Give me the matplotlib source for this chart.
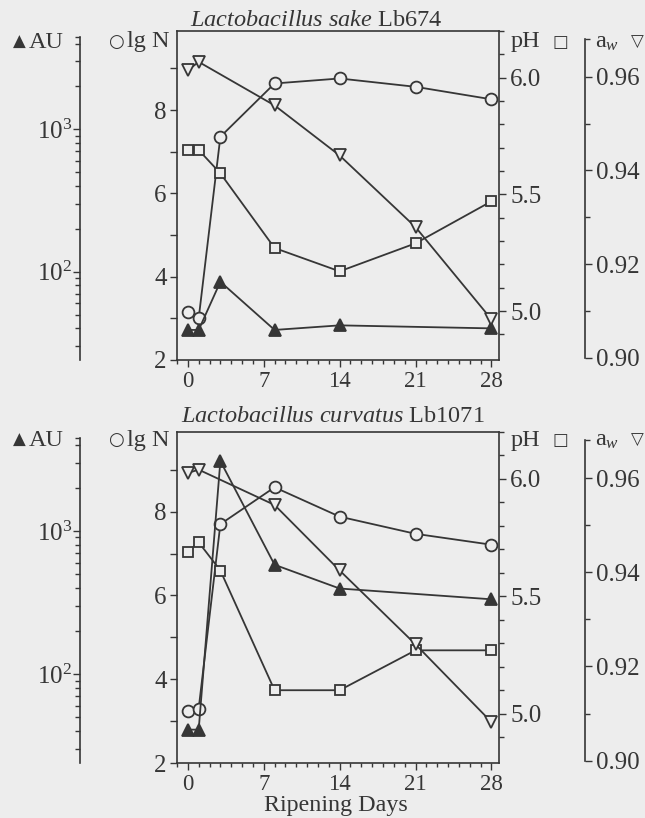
import matplotlib
matplotlib.use('Agg')
import matplotlib.pyplot as plt
from matplotlib.ticker import FixedLocator, FixedFormatter, NullFormatter

plt.rcParams['font.family'] = ['Liberation Serif', 'DejaVu Sans']
plt.rcParams['mathtext.fontset'] = 'custom'
plt.rcParams['mathtext.rm'] = 'Liberation Serif'
plt.rcParams['mathtext.it'] = 'Liberation Serif:italic'

BG = '#ededed'
INK = '#363636'

# -------------------- data --------------------
days = [0, 1, 3, 8, 14, 21, 28]          # lg N and pH
days_aw = [0, 1, 8, 14, 21, 28]          # water activity
days_au = [0, 1, 3, 8, 14, 28]           # bacteriocin activity

lgN_sake = [3.16, 3.0, 7.36, 8.64, 8.76, 8.56, 8.26]
pH_sake = [5.69, 5.69, 5.59, 5.27, 5.17, 5.29, 5.47]
aw_sake = [0.9614, 0.9632, 0.9539, 0.9432, 0.9279, 0.9082]
au_sake = [39, 39, 85, 39, 42, 40]

lgN_curv = [3.24, 3.30, 7.70, 8.58, 7.88, 7.47, 7.21]
pH_curv = [5.69, 5.73, 5.61, 5.10, 5.10, 5.27, 5.27]
aw_curv = [0.9611, 0.9618, 0.9543, 0.9404, 0.9247, 0.9082]
au_curv = [41, 41, 3070, 580, 396, 333]

x_ticks = [0, 7, 14, 21, 28]
lgN_ticks = [2, 4, 6, 8]
pH_ticks = [5.0, 5.5, 6.0]
pH_labels = ['5.0', '5.5', '6.0']
aw_ticks = [0.90, 0.92, 0.94, 0.96]
aw_labels = ['0.90', '0.92', '0.94', '0.96']
au_ticks = [100, 1000]
au_labels = [r'$10^2$', r'$10^3$']

W, H = 645, 818
fig = plt.figure(figsize=(W / 100, H / 100), dpi=100, facecolor=BG)


def fx(px):
    return px / W


def fy(py):
    return 1 - py / H


XTICK_FS = 16.5
YTICK_FS = 18
LAB_FS = 17.5


def style_ticks(axis_obj, major_len=5.0, minor_len=3.4, pad=3):
    axis_obj.tick_params(axis='y', which='both', direction='out', width=1.0,
                         colors=INK, labelsize=YTICK_FS, pad=pad)
    axis_obj.tick_params(axis='y', which='major', length=major_len)
    axis_obj.tick_params(axis='y', which='minor', length=minor_len)


def side_spine(a, side, pos=None, bounds=None):
    for k, s in a.spines.items():
        s.set_visible(k == side)
    sp = a.spines[side]
    sp.set_color(INK)
    sp.set_linewidth(1.2)
    if pos is not None:
        sp.set_position(('axes', pos))
    if bounds is not None:
        sp.set_bounds(*bounds)


def panel(top_px, bot_px, lgN, pH, aw, au, title, title_py, title_cx, label_py,
          xlabel=False):
    left_px, right_px = 177, 499
    ax = fig.add_axes([fx(left_px), fy(bot_px), fx(right_px - left_px),
                       (bot_px - top_px) / H])
    ax.set_facecolor('none')
    for s in ax.spines.values():
        s.set_color(INK)
        s.set_linewidth(1.2)
    ax.spines['right'].set_visible(False)

    # lg N (left inner axis)
    ax.set_xlim(-1.0, 28.7)
    ax.set_ylim(2, 9.9)
    ax.xaxis.set_major_locator(FixedLocator(x_ticks))
    ax.xaxis.set_minor_locator(FixedLocator(list(range(-1, 29))))
    ax.yaxis.set_major_locator(FixedLocator(lgN_ticks))
    ax.yaxis.set_minor_locator(FixedLocator([3, 5, 7, 9]))
    ax.tick_params(axis='x', which='both', direction='out', width=1.0,
                   colors=INK, labelsize=XTICK_FS, pad=3)
    ax.tick_params(axis='x', which='major', length=5.0)
    ax.tick_params(axis='x', which='minor', length=3.0)
    style_ticks(ax, major_len=5.4, minor_len=5.0, pad=2)

    # AU (far left, log)
    ax_au = ax.twinx()
    ax_au.set_yscale('log')
    ax_au.set_ylim(10 ** 1.38, 10 ** 3.69)
    side_spine(ax_au, 'left', pos=-0.301, bounds=(24, 4450))
    ax_au.yaxis.tick_left()
    ax_au.yaxis.set_major_locator(FixedLocator(au_ticks))
    ax_au.yaxis.set_major_formatter(FixedFormatter(au_labels))
    au_minor = [m * 10 ** e for e in (1, 2, 3) for m in range(2, 10)]
    au_minor = [v for v in au_minor if 24 <= v <= 4000] + [4450]
    ax_au.yaxis.set_minor_locator(FixedLocator(au_minor))
    ax_au.yaxis.set_minor_formatter(NullFormatter())
    style_ticks(ax_au, major_len=5.4, minor_len=3.8, pad=0.5)

    # pH (box right)
    ax_ph = ax.twinx()
    ax_ph.set_ylim(4.79, 6.2)
    side_spine(ax_ph, 'right')
    ax_ph.yaxis.set_major_locator(FixedLocator(pH_ticks))
    ax_ph.yaxis.set_major_formatter(FixedFormatter(pH_labels))
    ax_ph.yaxis.set_minor_locator(FixedLocator([4.9, 5.1, 5.2, 5.3, 5.4, 5.6,
                                                5.7, 5.8, 5.9, 6.1, 6.2]))
    style_ticks(ax_ph, major_len=5.0, minor_len=3.6, pad=3)

    # a_w (far right)
    ax_aw = ax.twinx()
    ax_aw.set_ylim(0.8995, 0.9698)
    side_spine(ax_aw, 'right', pos=1.267, bounds=(0.90, 0.968))
    ax_aw.yaxis.set_major_locator(FixedLocator(aw_ticks))
    ax_aw.yaxis.set_major_formatter(FixedFormatter(aw_labels))
    ax_aw.yaxis.set_minor_locator(FixedLocator([0.91, 0.93, 0.95, 0.968]))
    style_ticks(ax_aw, major_len=5.0, minor_len=3.6, pad=3)

    line_kw = dict(color=INK, linewidth=1.3, markeredgecolor=INK,
                   markeredgewidth=1.3, clip_on=False)
    ax.plot(days, lgN, marker='o', markersize=8.5, markerfacecolor=BG, **line_kw)
    ax_au.plot(days_au, au, marker='^', markersize=8, markerfacecolor=INK, **line_kw)
    ax_ph.plot(days, pH, marker='s', markersize=7, markerfacecolor=BG, **line_kw)
    ax_aw.plot(days_aw, aw, marker='v', markersize=8, markerfacecolor=BG, **line_kw)

    # title and axis captions
    fig.text(fx(title_cx), fy(title_py), title, ha='center', va='center',
             fontsize=17.5, color=INK)
    y = fy(label_py)
    sym = dict(ha='center', va='center', color=INK, family='DejaVu Sans')
    txt = dict(ha='left', va='center', fontsize=LAB_FS, color=INK)
    fig.text(fx(19), y, '\u25b2', fontsize=12, **sym)
    fig.text(fx(29), y, 'AU', **txt)
    fig.text(fx(116), y, '\u25cb', fontsize=13, fontweight='bold', **sym)
    fig.text(fx(127), y, 'lg N', **txt)
    fig.text(fx(511), y, 'pH', **txt)
    fig.text(fx(560), y, '\u25a1', fontsize=12, fontweight='bold', **sym)
    fig.text(fx(595), y, r'a$_{w}$', **txt)
    fig.text(fx(637), y, '\u25bd', fontsize=12, fontweight='bold', **sym)
    if xlabel:
        fig.text(fx(336), fy(806), 'Ripening Days', ha='center', va='center',
                 fontsize=17.3, color=INK)
    return ax


panel(31, 360, lgN_sake, pH_sake, aw_sake, au_sake,
      r'$\mathit{Lactobacillus\ sake}$ Lb674', 21, 316, 42)
panel(432, 763, lgN_curv, pH_curv, aw_curv, au_curv,
      r'$\mathit{Lactobacillus\ curvatus}$ Lb1071', 416, 333, 440, xlabel=True)

fig.savefig('out.png', dpi=100, facecolor=BG)
